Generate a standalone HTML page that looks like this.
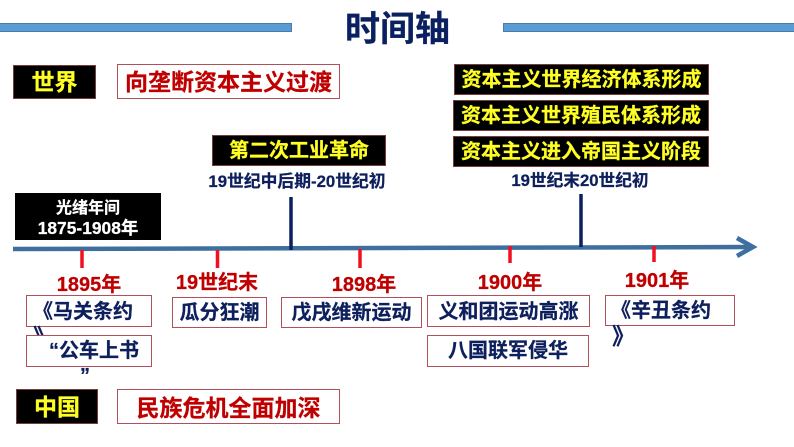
<!DOCTYPE html>
<html lang="zh"><head><meta charset="utf-8"><style>
html,body{margin:0;padding:0;background:#fff}
#p{position:relative;width:794px;height:447px;overflow:hidden;background:#fff;font-family:"Liberation Sans","Noto Sans CJK SC",sans-serif;font-weight:700}
.b{position:absolute;box-sizing:border-box}
.k{background:#000;border:1px solid #7a3b3b}
.r{background:#fff;border:1px solid #b0505a}
.t{position:absolute;white-space:nowrap;text-align:center;-webkit-text-stroke:.25px currentColor}
.y{color:#ffff26}.c{color:#c00000}.n{color:#0d1f5c}.w{color:#fff}
</style></head><body><div id="p">
<div class="b" style="left:-2px;top:23px;width:294px;height:9px;background:#5b9bd5;border:1px solid #4a7ba8"></div>
<div class="b" style="left:503px;top:23px;width:294px;height:9px;background:#5b9bd5;border:1px solid #4a7ba8"></div>
<div class="t" style="left:340px;width:115px;top:8px;font-size:35px;line-height:44px;color:#0a2060">时间轴</div>

<div class="b k" style="left:13px;top:65px;width:83px;height:34px"></div>
<div class="t y" style="left:13px;width:83px;top:66px;font-size:23px;line-height:33px">世界</div>
<div class="b r" style="left:117px;top:64px;width:223px;height:35px"></div>
<div class="t c" style="left:117px;width:223px;top:65px;font-size:23px;line-height:34px">向垄断资本主义过渡</div>

<div class="b k" style="left:212px;top:135px;width:174px;height:31px"></div>
<div class="t y" style="left:212px;width:174px;top:136px;font-size:20px;line-height:30px">第二次工业革命</div>
<div class="t n" style="left:197px;width:200px;top:172px;font-size:16.800px;line-height:20px">19世纪中后期-20世纪初</div>

<div class="b k" style="left:454px;top:64px;width:255px;height:31px"></div>
<div class="t y" style="left:454px;width:255px;top:65px;font-size:20px;line-height:30px">资本主义世界经济体系形成</div>
<div class="b k" style="left:453px;top:100px;width:256px;height:31px"></div>
<div class="t y" style="left:453px;width:256px;top:101px;font-size:20px;line-height:30px">资本主义世界殖民体系形成</div>
<div class="b k" style="left:453px;top:136px;width:256px;height:31px"></div>
<div class="t y" style="left:453px;width:256px;top:137px;font-size:20px;line-height:30px">资本主义进入帝国主义阶段</div>
<div class="t n" style="left:480px;width:200px;top:171px;font-size:16.700px;line-height:20px">19世纪末20世纪初</div>

<div class="b" style="left:15px;top:193px;width:146px;height:47px;background:#000"></div>
<div class="t w" style="left:15px;width:146px;top:198px;font-size:16px;line-height:22px">光绪年间</div>
<div class="t w" style="left:15px;width:146px;top:217px;font-size:17.400px;line-height:22px">1875-1908年</div>

<svg class="b" style="left:0;top:0" width="794" height="447">
<path d="M13 249 L752 247" stroke="#3f6f9f" stroke-width="4.500" fill="none"/>
<path d="M737 238 L753 247 L737 256" stroke="#3f6f9f" stroke-width="4.500" fill="none"/>
<path d="M291 197V250M581 194V247" stroke="#0a2060" stroke-width="3.500"/>
<path d="M82 250V268M217.500 250V268M360 249V268M510 246V263M654 246V262" stroke="#f01020" stroke-width="3.500"/>
</svg>

<div class="t c" style="left:39px;width:100px;top:273px;font-size:20px;line-height:24px">1895年</div>
<div class="t c" style="left:167px;width:100px;top:271px;font-size:20px;line-height:24px">19世纪末</div>
<div class="t c" style="left:314px;width:100px;top:273px;font-size:20px;line-height:24px">1898年</div>
<div class="t c" style="left:460px;width:100px;top:271px;font-size:20px;line-height:24px">1900年</div>
<div class="t c" style="left:607px;width:100px;top:269px;font-size:20px;line-height:24px">1901年</div>

<div class="b r" style="left:26px;top:295px;width:126px;height:32px"></div>
<div class="t n" style="left:33px;top:298px;font-size:20px;line-height:28px">《马关条约</div>
<div class="t n" style="left:33px;top:322px;font-size:23px;line-height:30px">》</div>
<div class="b r" style="left:26px;top:335px;width:126px;height:32px"></div>
<div class="t n" style="left:49px;top:337px;font-size:20px;line-height:28px">“公车上书</div>
<div class="t n" style="left:80px;top:362px;font-size:20px;line-height:28px">”</div>

<div class="b r" style="left:172px;top:297px;width:95px;height:31px"></div>
<div class="t n" style="left:172px;width:95px;top:299px;font-size:20px;line-height:28px">瓜分狂潮</div>
<div class="b r" style="left:281px;top:297px;width:141px;height:31px"></div>
<div class="t n" style="left:281px;width:141px;top:299px;font-size:20px;line-height:28px">戊戌维新运动</div>
<div class="b r" style="left:427px;top:295px;width:163px;height:32px"></div>
<div class="t n" style="left:427px;width:163px;top:298px;font-size:20px;line-height:28px">义和团运动高涨</div>
<div class="b r" style="left:427px;top:335px;width:162px;height:32px"></div>
<div class="t n" style="left:427px;width:162px;top:337px;font-size:20px;line-height:28px">八国联军侵华</div>
<div class="b r" style="left:605px;top:295px;width:130px;height:31px"></div>
<div class="t n" style="left:611px;top:297px;font-size:20px;line-height:28px">《辛丑条约</div>
<div class="t n" style="left:612px;top:321px;font-size:23px;line-height:30px">》</div>

<div class="b k" style="left:16px;top:389px;width:82px;height:35px"></div>
<div class="t y" style="left:16px;width:82px;top:390px;font-size:23px;line-height:34px">中国</div>
<div class="b r" style="left:117px;top:389px;width:223px;height:35px"></div>
<div class="t c" style="left:117px;width:223px;top:391px;font-size:23px;line-height:34px">民族危机全面加深</div>
</div></body></html>
